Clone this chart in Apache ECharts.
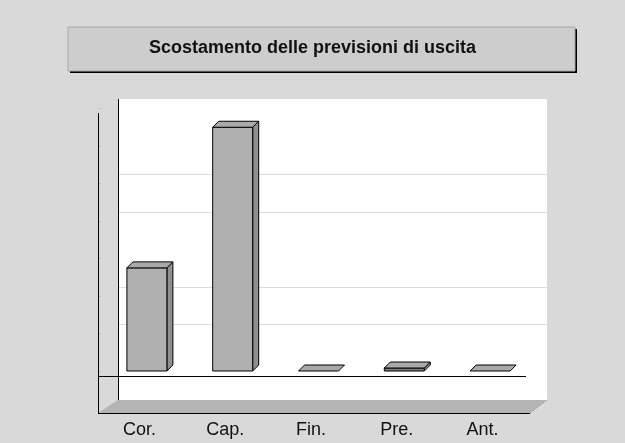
<!DOCTYPE html>
<html><head><meta charset="utf-8">
<script src="https://cdn.jsdelivr.net/npm/echarts@6/dist/echarts.min.js"></script>
<style>html,body{margin:0;padding:0;background:#d9d9d9;}#c{width:625px;height:443px;}</style>
</head><body><div id="c"></div>
<script>
var titleText = 'Scostamento delle previsioni di uscita';
var categories = ['Cor.', 'Cap.', 'Fin.', 'Pre.', 'Ant.'];
var values = [2.75, 6.5, 0, 0.08, 0];
var yMin = 0, yMax = 7, yInterval = 1;
var gridColors = ['rgba(0,0,0,0)', '#dcdcdc', '#dcdcdc', 'rgba(0,0,0,0)', '#dcdcdc', '#dcdcdc', 'rgba(0,0,0,0)', 'rgba(0,0,0,0)'];

var chart = echarts.init(document.getElementById('c'), null, {renderer: 'canvas'});
var DX = 6, DY = -6, BW = 40;

function renderBar(params, api) {
  var i = api.value(0), v = api.value(1);
  var top = api.coord([i, v]);
  var base = api.coord([i, 0]);
  var x0 = top[0] - BW / 2, x1 = top[0] + BW / 2;
  var yt = top[1], yb = base[1];
  var stroke = {stroke: '#000', lineWidth: 1};
  var children = [];
  if (yb - yt > 0.5) {
    children.push({type: 'polygon', shape: {points: [[x1, yb], [x1 + DX, yb + DY], [x1 + DX, yt + DY], [x1, yt]]},
      style: Object.assign({fill: '#8f8f8f'}, stroke)});
    children.push({type: 'rect', shape: {x: x0, y: yt, width: BW, height: yb - yt},
      style: Object.assign({fill: v < 0.5 ? '#7d7d7d' : '#b0b0b0'}, stroke)});
  }
  children.push({type: 'polygon', shape: {points: [[x0, yt], [x0 + DX, yt + DY], [x1 + DX, yt + DY], [x1, yt]]},
    style: Object.assign({fill: '#a9a9a9'}, stroke)});
  return {type: 'group', children: children};
}

var option = {
  backgroundColor: '#d9d9d9',
  animation: false,
  graphic: [
    {type: 'rect', shape: {x: 70, y: 29, width: 507, height: 44}, style: {fill: '#000'}, z: 1},
    {type: 'rect', shape: {x: 68, y: 27, width: 507, height: 44}, style: {fill: '#cdcdcd', stroke: '#a8a8a8', lineWidth: 1}, z: 2},
    {type: 'text', left: 'center', top: 39, style: {text: titleText, font: 'bold 18px "Liberation Sans", Arial, sans-serif', fill: '#111'}, z: 3},
    {type: 'rect', shape: {x: 118, y: 99, width: 429, height: 301}, style: {fill: '#ffffff'}, z: 0},
    {type: 'polygon', shape: {points: [[98, 413], [118, 400], [547, 400], [530, 413]]}, style: {fill: '#b4b4b4'}, z: 0},
    {type: 'line', shape: {x1: 98, y1: 413.5, x2: 530, y2: 413.5}, style: {stroke: '#000', lineWidth: 1}, z: 5},
    {type: 'line', shape: {x1: 530, y1: 413, x2: 547, y2: 400}, style: {stroke: '#999', lineWidth: 1, lineDash: [2, 2]}, z: 5},
    {type: 'line', shape: {x1: 98.5, y1: 113, x2: 98.5, y2: 413}, style: {stroke: '#000', lineWidth: 1}, z: 5},
    {type: 'line', shape: {x1: 118.5, y1: 99, x2: 118.5, y2: 400}, style: {stroke: '#000', lineWidth: 1}, z: 5},
    {type: 'line', shape: {x1: 98, y1: 376.5, x2: 526, y2: 376.5}, style: {stroke: '#000', lineWidth: 1}, z: 5}
  ],
  grid: [
    {left: 104, width: 429, top: 108.5, height: 262.5},
    {left: 118, width: 429, top: 99.5, height: 262.5}
  ],
  xAxis: [
    {type: 'category', gridIndex: 0, data: categories, boundaryGap: true,
      axisLine: {show: false}, axisTick: {show: false}, splitLine: {show: false},
      axisLabel: {margin: 50, fontSize: 18, color: '#111', fontFamily: '"Liberation Sans", Arial, sans-serif', padding: [0, 15, 0, 0]}},
    {type: 'category', gridIndex: 1, data: categories, show: false}
  ],
  yAxis: [
    {type: 'value', gridIndex: 0, min: yMin, max: yMax, interval: yInterval, offset: 6,
      axisLine: {show: false}, axisLabel: {show: false}, splitLine: {show: false},
      axisTick: {show: true, inside: true, length: 3, lineStyle: {color: '#bbb'}}},
    {type: 'value', gridIndex: 1, min: yMin, max: yMax, interval: yInterval,
      axisLine: {show: false}, axisLabel: {show: false}, axisTick: {show: false},
      splitLine: {show: true, lineStyle: {color: gridColors, width: 1}}}
  ],
  series: [{
    type: 'custom', xAxisIndex: 0, yAxisIndex: 0, z: 10,
    renderItem: renderBar,
    data: values.map(function (v, i) { return [i, v]; })
  }]
};
chart.setOption(option);
</script></body></html>
